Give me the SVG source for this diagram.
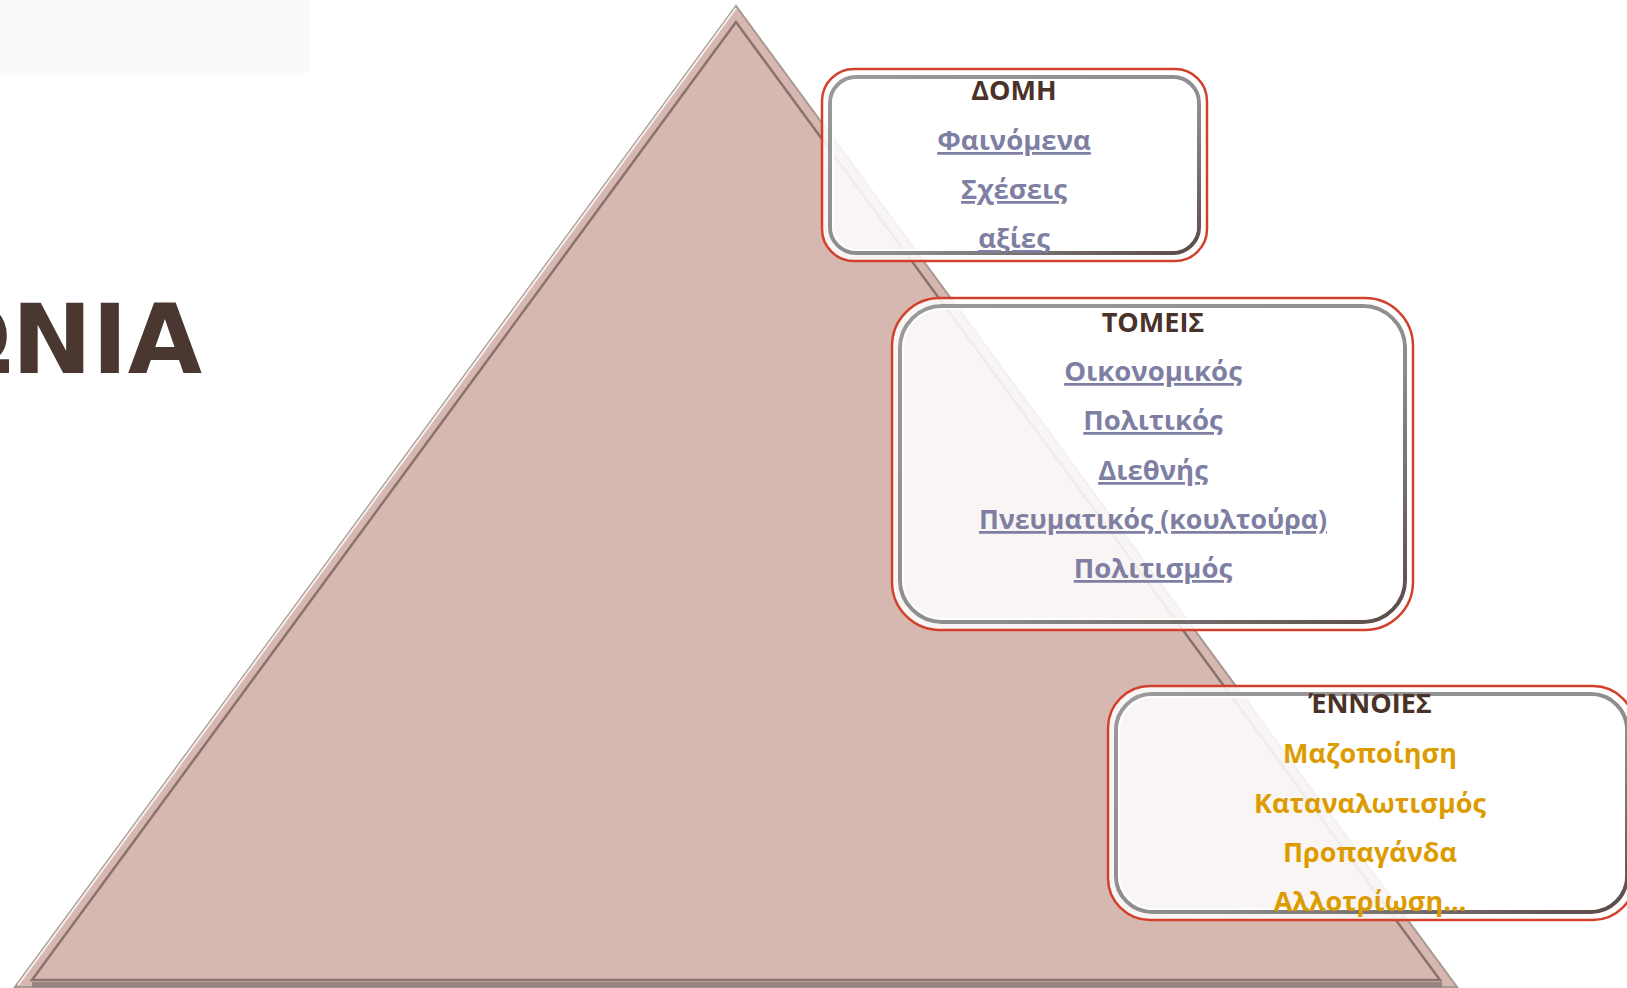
<svg xmlns="http://www.w3.org/2000/svg" width="1627" height="988" viewBox="0 0 1627 988">
<defs>
<style>
.h{font-family:"Open Sans","Noto Sans",sans-serif;font-weight:bold;font-size:27px;fill:#4a3228;text-anchor:middle}
.l{font-family:"Open Sans","Noto Sans",sans-serif;font-weight:bold;font-size:27.5px;fill:#7e7fa3;text-anchor:middle;text-decoration:underline}
.o{font-family:"Open Sans","Noto Sans",sans-serif;font-weight:bold;font-size:27px;fill:#dc9c00;text-anchor:middle}
.box{fill:#ffffff;fill-opacity:0.86;stroke:#d2402c;stroke-width:2.5}
.bev{fill:none;stroke:url(#bevg);stroke-width:4}
.bevl{fill:none;stroke:#ffffff;stroke-width:2}
</style>
<linearGradient id="bevg" x1="0" y1="0" x2="1" y2="1">
<stop offset="0" stop-color="#9a9a9a"/>
<stop offset="0.6" stop-color="#8c8c8c"/>
<stop offset="1" stop-color="#5a4a46"/>
</linearGradient>
</defs>
<rect x="0" y="0" width="309" height="73" fill="#fafafa"/>
<text x="202" y="373" font-family="DejaVu Sans" font-weight="bold" font-size="96" fill="#4a3830" text-anchor="end">ΩΝΙΑ</text>
<g id="pyramid">
<polygon points="736,6 15,987 1457,987" fill="#d6b8b0" stroke="#a89894" stroke-width="2"/>
<polyline points="18,985 736,8" fill="none" stroke="#ffffff" stroke-width="2" stroke-opacity="0.8"/>
<polygon points="736,22 32,980 1440,980" fill="none" stroke="#6e5c58" stroke-width="2.5" stroke-opacity="0.75"/>
<rect x="32" y="982" width="1410" height="5" fill="#8a7672" fill-opacity="0.8"/>
</g>
<g id="node-domi">
<rect class="box" x="822" y="69" width="385" height="192" rx="32"/>
<rect class="bev" x="830" y="77" width="369" height="176" rx="26"/>
<rect class="bevl" x="833" y="80" width="363" height="170" rx="24"/>
<text class="h" x="1014" y="100">ΔΟΜΗ</text>
<text class="l" x="1014" y="150">Φαινόμενα</text>
<text class="l" x="1014" y="199">Σχέσεις</text>
<text class="l" x="1014" y="248">αξίες</text>
</g>
<g id="node-tomeis">
<rect class="box" x="892" y="298" width="521" height="332" rx="48"/>
<rect class="bev" x="900" y="306" width="505" height="316" rx="42"/>
<rect class="bevl" x="903" y="309" width="499" height="310" rx="40"/>
<text class="h" x="1153" y="332">ΤΟΜΕΙΣ</text>
<text class="l" x="1153" y="381">Οικονομικός</text>
<text class="l" x="1153" y="430">Πολιτικός</text>
<text class="l" x="1153" y="480">Διεθνής</text>
<text class="l" x="1153" y="529" textLength="348" lengthAdjust="spacingAndGlyphs">Πνευματικός (κουλτούρα)</text>
<text class="l" x="1153" y="578">Πολιτισμός</text>
</g>
<g id="node-ennoies">
<rect class="box" x="1108" y="686" width="527" height="234" rx="42"/>
<rect class="bev" x="1116" y="694" width="511" height="218" rx="36"/>
<rect class="bevl" x="1119" y="697" width="505" height="212" rx="34"/>
<text class="h" x="1370" y="713">ΈΝΝΟΙΕΣ</text>
<text class="o" x="1370" y="763">Μαζοποίηση</text>
<text class="o" x="1370" y="813">Καταναλωτισμός</text>
<text class="o" x="1370" y="862">Προπαγάνδα</text>
<text class="o" x="1370" y="911">Αλλοτρίωση…</text>
</g>
<g id="connectors"/>
</svg>
